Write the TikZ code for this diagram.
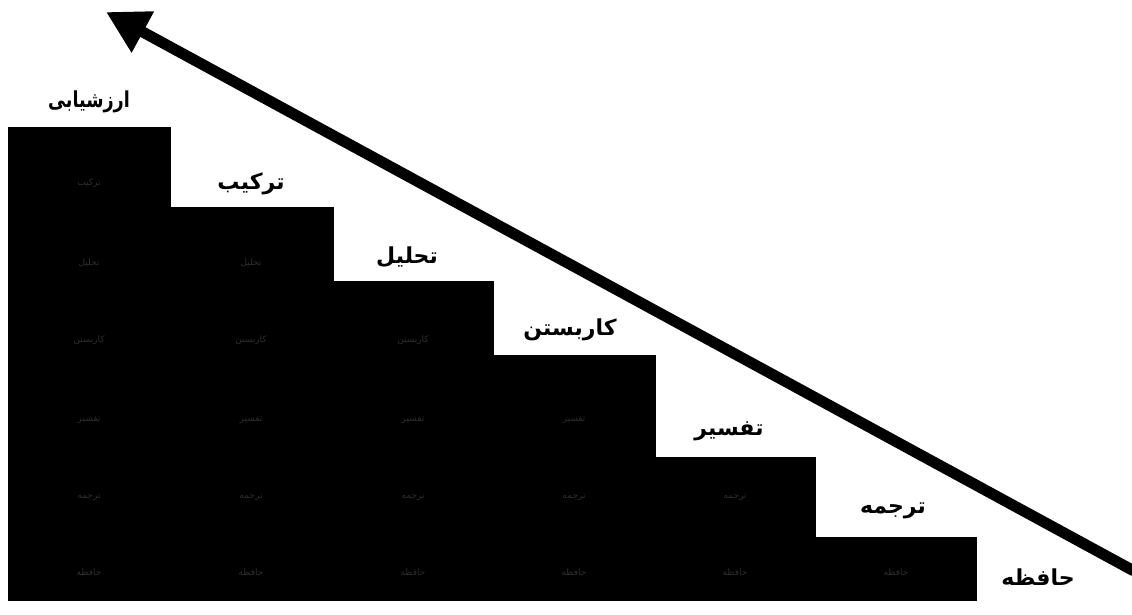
\documentclass[tikz,border=0pt]{standalone}
\usepackage{fontspec}
\usetikzlibrary{arrows.meta}
\TeXXeTstate=1
\newfontfamily\arabicfont[Script=Arabic]{DejaVu Sans}
\tikzset{
  stairblock/.style={fill=black},
  levellabel/.style={font=\arabicfont\bfseries\fontsize{22}{26}\selectfont, inner sep=0pt},
  celltext/.style={font=\arabicfont\fontsize{9}{10}\selectfont, text=black!82, inner sep=0pt},
  bigarrow/.style={line width=11pt, -{Triangle[width=44pt,length=42pt]}}
}
\begin{document}
\begin{tikzpicture}[x=1pt,y=-1pt]
\useasboundingbox (0,0) rectangle (1132,615);
\fill[white] (0,0) rectangle (1132,615);
% staircase
\foreach \xa/\xb/\yt in {8/171/127,170/334/207,333/494/281,493/656/355,655/816/457,815/977/537}
  \fill[stairblock] (\xa,\yt) rectangle (\xb,601);
% faint cell texts
\foreach \x [count=\i] in {89,251,413,574,735,896} {
  \pgfmathtruncatemacro\lim{7-\i}
  \foreach \y/\t [count=\j] in {572/حافظه,497/ترجمه,420/تفسیر,340/کاربستن,263/تحلیل,183/ترکیب} {
    \ifnum\j>\lim\relax\else
      \node[celltext] (c\i\j) at (\x,\y) {\beginR\t\endR};
    \fi
  }
}
% level labels
\node[levellabel] (l7) at (89,102) {\scalebox{0.8}[1]{\beginR ارزشیابی\endR}};
\node[levellabel] (l6) at (251,184) {\beginR ترکیب\endR};
\node[levellabel] (l5) at (407,257) {\beginR تحلیل\endR};
\node[levellabel] (l4) at (570,330) {\beginR کاربستن\endR};
\node[levellabel] (l3) at (729,431) {\beginR تفسیر\endR};
\node[levellabel] (l2) at (893,511) {\beginR ترجمه\endR};
\node[levellabel] (l1) at (1038,577) {\beginR حافظه\endR};
% arrow
\coordinate (astart) at (1134,571);
\coordinate (aend) at (106,12);
\draw[bigarrow] (astart) -- (aend);
\end{tikzpicture}
\end{document}
